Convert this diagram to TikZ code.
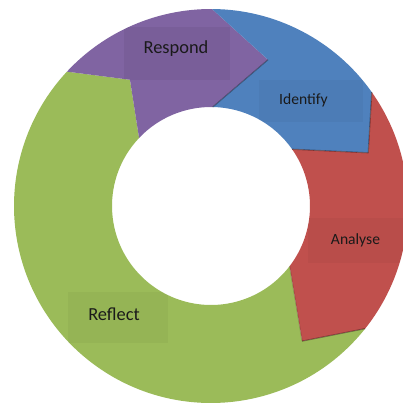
\documentclass[tikz,border=0pt]{standalone}
\usepackage{fontspec}
\setmainfont{Carlito}
\definecolor{cpurple}{HTML}{8064A2}
\definecolor{cblue}{HTML}{4F81BD}
\definecolor{cred}{HTML}{C0504D}
\definecolor{cgreen}{HTML}{9BBB59}
\definecolor{ctext}{HTML}{1A1A1A}
\tikzset{
  tipshadow/.style={draw=black, draw opacity=0.35, line width=1.1pt, line join=round},
  labelbox/.style={inner sep=0pt, fill=black, fill opacity=0.035, draw=none},
  bigtext/.style={text=ctext, font=\fontsize{18.4}{20}\selectfont, inner sep=0pt},
  smalltext/.style={text=ctext, font=\fontsize{15.6}{18}\selectfont, inner sep=0pt}
}
\def\Rout{197}
\def\Rin{99}
\def\purplepath{(137:\Rout) arc[start angle=137,end angle=89.7,radius=\Rout] -- (68.7:157) -- (89:\Rin) arc[start angle=89,end angle=136.6,radius=\Rin] -- (122.7:150) -- cycle}
\def\bluepath{(89.7:\Rout) arc[start angle=89.7,end angle=35.3,radius=\Rout] -- (18.7:166) -- (35:\Rin) arc[start angle=35,end angle=89,radius=\Rin] -- (68.7:157) -- cycle}
\def\redpath{(35.3:\Rout) arc[start angle=35.3,end angle=-38.5,radius=\Rout] -- (-56:163) -- (-37.4:\Rin) arc[start angle=-37.4,end angle=35,radius=\Rin] -- (18.7:166) -- cycle}
\def\greenpath{(-38.5:\Rout) arc[start angle=-38.5,end angle=-223,radius=\Rout] -- (122.7:150) -- (136.6:\Rin) arc[start angle=136.6,end angle=322.6,radius=\Rin] -- (-56:163) -- cycle}
\begin{document}
\begin{tikzpicture}[x=1pt,y=1pt]
\fill[white] (0,0) rectangle (403,407);
\useasboundingbox (0,0) rectangle (403,407);
\coordinate (c) at (211,201);
% segments
\fill[cgreen,shift={(c)}] \greenpath;
\fill[cpurple,shift={(c)}] \purplepath;
\fill[cblue,shift={(c)}] \bluepath;
\fill[cred,shift={(c)}] \redpath;
% tip shadows
\begin{scope}[shift={(c)}]
  \draw[tipshadow] (68.7:157) -- (89:\Rin);
  \draw[tipshadow] (35.3:\Rout) -- (18.7:166) -- (35:\Rin);
  \draw[tipshadow] (-38.5:\Rout) -- (-56:163);
  \draw[tipshadow, draw opacity=0.15] (-56:163) -- (-37.4:\Rin);
\end{scope}
% label boxes, clipped to their segments
\begin{scope}
  \clip[shift={(c)}] \purplepath;
  \node[labelbox, fill opacity=0.05, minimum width=106pt, minimum height=53pt] (respondbox) at (177,353.5) {};
\end{scope}
\begin{scope}
  \clip[shift={(c)}] \bluepath;
  \node[labelbox, minimum width=104pt, minimum height=42pt] (identifybox) at (311,306) {};
\end{scope}
\begin{scope}
  \clip[shift={(c)}] \redpath;
  \node[labelbox, minimum width=95pt, minimum height=45pt] (analysebox) at (355.5,166.5) {};
\end{scope}
\begin{scope}
  \clip[shift={(c)}] \greenpath;
  \node[labelbox, minimum width=100pt, minimum height=51pt] (reflectbox) at (118,89.5) {};
\end{scope}
% labels
\node[bigtext] (respond) at (176,358) {Respond};
\node[smalltext] (identify) at (303.5,307) {Identify};
\node[smalltext] (analyse) at (355.5,167) {Analyse};
\node[bigtext] (reflect) at (114,93) {Reflect};
\end{tikzpicture}
\end{document}
